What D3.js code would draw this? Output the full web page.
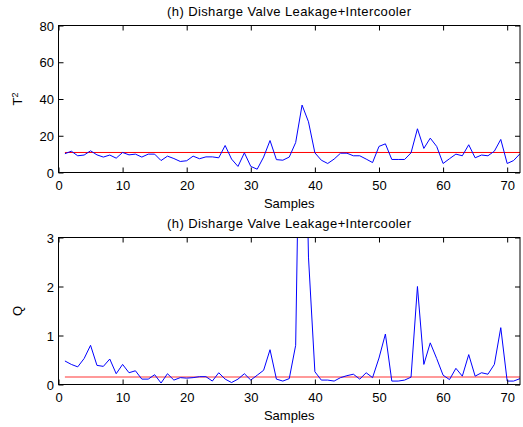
<!DOCTYPE html>
<html>
<head>
<meta charset="utf-8">
<script src="https://cdn.jsdelivr.net/npm/d3@7"></script>
<style>
  html, body { margin: 0; padding: 0; background: #fff; }
  svg { display: block; font-family: "Liberation Sans", Arial, sans-serif; }
</style>
</head>
<body>
<svg id="chart" width="523" height="427"></svg>
<script>
// Sample index 1..72
const samples = d3.range(1, 73);

// T² statistic per sample
const t2Values = [
  10.2, 11.6, 9.1, 9.5, 11.8, 9.6, 8.4, 9.5, 7.8, 10.9,
  9.6, 10.0, 8.4, 10.0, 10.0, 6.5, 8.9, 7.6, 6.0, 6.4,
  8.9, 7.5, 8.5, 8.5, 8.0, 14.7, 7.3, 3.3, 10.7, 3.3,
  1.8, 8.4, 17.4, 7.0, 6.7, 8.4, 16.3, 36.7, 27.6, 10.7,
  6.7, 4.9, 7.3, 10.5, 10.5, 9.1, 9.1, 7.3, 5.4, 14.2,
  15.6, 7.1, 7.1, 7.1, 10.7, 23.8, 13.1, 18.7, 14.2, 4.9,
  7.5, 10.0, 9.1, 15.1, 8.0, 9.5, 9.1, 11.6, 18.0, 4.9,
  6.5, 10.2
];
const t2Limit = 10.9;

// Q (SPE) statistic per sample
const qValues = [
  0.48, 0.41, 0.36, 0.53, 0.80, 0.39, 0.37, 0.52, 0.22, 0.41,
  0.24, 0.28, 0.11, 0.11, 0.20, 0.03, 0.22, 0.09, 0.14, 0.13,
  0.14, 0.16, 0.16, 0.07, 0.24, 0.11, 0.04, 0.11, 0.22, 0.09,
  0.19, 0.29, 0.71, 0.11, 0.07, 0.12, 0.80, 9.0, 2.6, 0.26,
  0.09, 0.09, 0.07, 0.14, 0.18, 0.21, 0.11, 0.24, 0.14, 0.54,
  1.03, 0.07, 0.07, 0.09, 0.15, 2.00, 0.41, 0.85, 0.53, 0.19,
  0.10, 0.33, 0.17, 0.61, 0.17, 0.24, 0.21, 0.41, 1.16, 0.07,
  0.07, 0.12
];
const qLimit = 0.155;

const xTicks = [0, 10, 20, 30, 40, 50, 60, 70];
const t2Ticks = [0, 20, 40, 60, 80];
const qTicks = [0, 1, 2, 3];

const titleText = "(h) Disharge Valve Leakage+Intercooler";
const xLabel = "Samples";

const svg = d3.select("#chart");

const left = 58.5, right = 520;

function panel(cfg) {
  const x = d3.scaleLinear().domain([0, 72]).range([left, right]);
  const y = d3.scaleLinear().domain(cfg.yDomain).range([cfg.bottom, cfg.top]);
  const g = svg.append("g");
  const clipId = "clip-" + cfg.id;

  g.append("clipPath").attr("id", clipId)
    .append("rect")
    .attr("x", left).attr("y", cfg.top)
    .attr("width", right - left).attr("height", cfg.bottom - cfg.top);

  // threshold line
  g.append("line")
    .attr("x1", x(samples[0])).attr("x2", x(samples[samples.length - 1]))
    .attr("y1", y(cfg.limit)).attr("y2", y(cfg.limit))
    .attr("stroke", cfg.limitColor).attr("stroke-width", cfg.limitWidth);

  // statistic trace
  const line = d3.line().x((d, i) => x(samples[i])).y(d => y(d));
  g.append("path")
    .datum(cfg.values)
    .attr("clip-path", `url(#${clipId})`)
    .attr("fill", "none")
    .attr("stroke", "#0000ff")
    .attr("stroke-width", 1)
    .attr("d", line);

  // axes with inward ticks on all sides
  const tickLen = 5;
  const fmt = d3.format("d");
  const axB = g.append("g").attr("transform", `translate(0,${cfg.bottom})`)
    .call(d3.axisBottom(x).tickValues(xTicks).tickFormat(fmt).tickSize(-tickLen).tickSizeOuter(0));
  const axT = g.append("g").attr("transform", `translate(0,${cfg.top})`)
    .call(d3.axisTop(x).tickValues(xTicks).tickSize(-tickLen).tickFormat("").tickSizeOuter(0));
  const axL = g.append("g").attr("transform", `translate(${left},0)`)
    .call(d3.axisLeft(y).tickValues(cfg.yTicks).tickFormat(fmt).tickSize(-tickLen).tickSizeOuter(0));
  const axR = g.append("g").attr("transform", `translate(${right},0)`)
    .call(d3.axisRight(y).tickValues(cfg.yTicks).tickSize(-tickLen).tickFormat("").tickSizeOuter(0));

  [axB, axT, axL, axR].forEach(a => {
    a.select(".domain").remove();
    a.selectAll("line").attr("stroke", "#000").attr("stroke-width", 1);
    a.selectAll("text").attr("fill", "#000").style("font-size", "13px")
      .style("font-family", "'Liberation Sans', Arial, sans-serif");
  });
  axB.selectAll("text").attr("dy", null).attr("y", 17);
  axL.selectAll("text").attr("x", -4.5).attr("dy", "0.36em");

  // box
  g.append("rect")
    .attr("x", left).attr("y", cfg.top)
    .attr("width", right - left).attr("height", cfg.bottom - cfg.top)
    .attr("fill", "none").attr("stroke", "#000").attr("stroke-width", 1);

  // title
  g.append("text")
    .attr("x", (left + right) / 2).attr("y", cfg.top - 10)
    .attr("text-anchor", "middle")
    .style("font-size", "13px")
    .style("letter-spacing", "0.4px")
    .text(titleText);

  // x label
  g.append("text")
    .attr("x", (left + right) / 2).attr("y", cfg.bottom + 35)
    .attr("text-anchor", "middle")
    .style("font-size", "13px")
    .text(xLabel);

  // y label
  const yl = g.append("text")
    .attr("transform", `translate(22,${(cfg.top + cfg.bottom) / 2}) rotate(-90)`)
    .attr("text-anchor", "middle")
    .style("font-size", "13px");
  cfg.yLabel(yl);
}

panel({
  id: "t2", top: 25.5, bottom: 172.5, yDomain: [0, 80], yTicks: t2Ticks,
  values: t2Values, limit: t2Limit, limitColor: "#ff0000", limitWidth: 1,
  yLabel: t => {
    t.append("tspan").text("T");
    t.append("tspan").attr("dy", "-0.45em").style("font-size", "9px").text("2");
  }
});

panel({
  id: "q", top: 237.5, bottom: 384.5, yDomain: [0, 3], yTicks: qTicks,
  values: qValues, limit: qLimit, limitColor: "#ff9999", limitWidth: 2,
  yLabel: t => t.text("Q")
});
</script>
</body>
</html>
